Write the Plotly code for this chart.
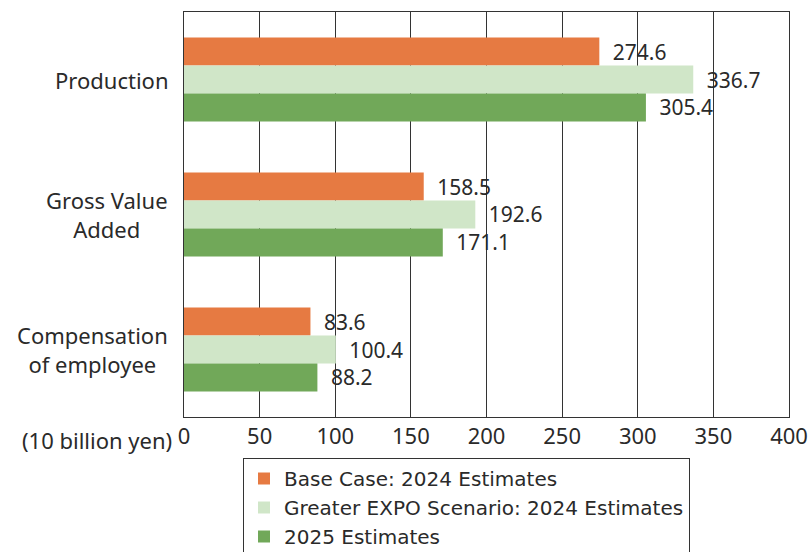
import plotly.graph_objects as go

categories = ["Production", "Gross Value Added", "Compensation of employee"]
category_labels = ["Production", "Gross Value<br>Added", "Compensation<br>of employee"]
series_names = ["Base Case: 2024 Estimates", "Greater EXPO Scenario: 2024 Estimates", "2025 Estimates"]
base_case = [274.6, 158.5, 83.6]
greater_expo = [336.7, 192.6, 100.4]
estimates_2025 = [305.4, 171.1, 88.2]
colors = ["#E67A42", "#D0E6C8", "#71A859"]
x_ticks = [0, 50, 100, 150, 200, 250, 300, 350, 400]
unit_label = "(10 billion yen)"

FONT = "Noto Sans"
TXT = "#2a2a2a"
fig = go.Figure()
for name, vals, col in zip(series_names, [base_case, greater_expo, estimates_2025], colors):
    fig.add_trace(go.Bar(
        y=categories, x=vals, name=name, orientation="h",
        marker=dict(color=col, line=dict(width=0)),
        text=["\u2002" + f"{v:.1f}" for v in vals], textposition="outside",
        textfont=dict(family=FONT, size=21, color=TXT),
        cliponaxis=False,
    ))

fig.update_layout(
    width=811, height=552,
    margin=dict(l=184, r=22, t=12, b=135, autoexpand=False),
    barmode="group", bargap=0.378, bargroupgap=0,
    plot_bgcolor="white", paper_bgcolor="white",
    font=dict(family=FONT, size=22, color=TXT),
    showlegend=True,
    legend=dict(
        xref="container", yref="container",
        x=243 / 811, y=1 - 458 / 552, xanchor="left", yanchor="top",
        bordercolor="#333333", borderwidth=1, bgcolor="white",
        font=dict(family="DejaVu Sans", size=20, color=TXT),
        traceorder="normal", itemwidth=30,
    ),
)
fig.update_xaxes(
    range=[0, 400], tickvals=x_ticks, ticktext=[str(t) for t in x_ticks],
    showgrid=True, gridcolor="#333333", gridwidth=1,
    showline=True, linecolor="#333333", linewidth=1, mirror=True,
    zeroline=False, ticks="", tickfont=dict(family=FONT, size=22, color=TXT),
)
fig.update_yaxes(
    autorange="reversed", showticklabels=False, ticks="",
    showline=True, linecolor="#333333", linewidth=1, mirror=True,
    showgrid=False,
)
for cat, lab in zip(categories, category_labels):
    fig.add_annotation(
        x=0, xref="paper", xanchor="right", xshift=-14,
        y=cat, yref="y", yanchor="middle",
        text=lab, showarrow=False, align="center",
        font=dict(family=FONT, size=22, color=TXT),
    )
fig.add_annotation(
    x=0, xref="paper", xanchor="right", xshift=-10,
    y=0, yref="paper", yanchor="top", yshift=-6,
    text=unit_label, showarrow=False,
    font=dict(family=FONT, size=22, color=TXT),
)
fig.write_html("out.html")
